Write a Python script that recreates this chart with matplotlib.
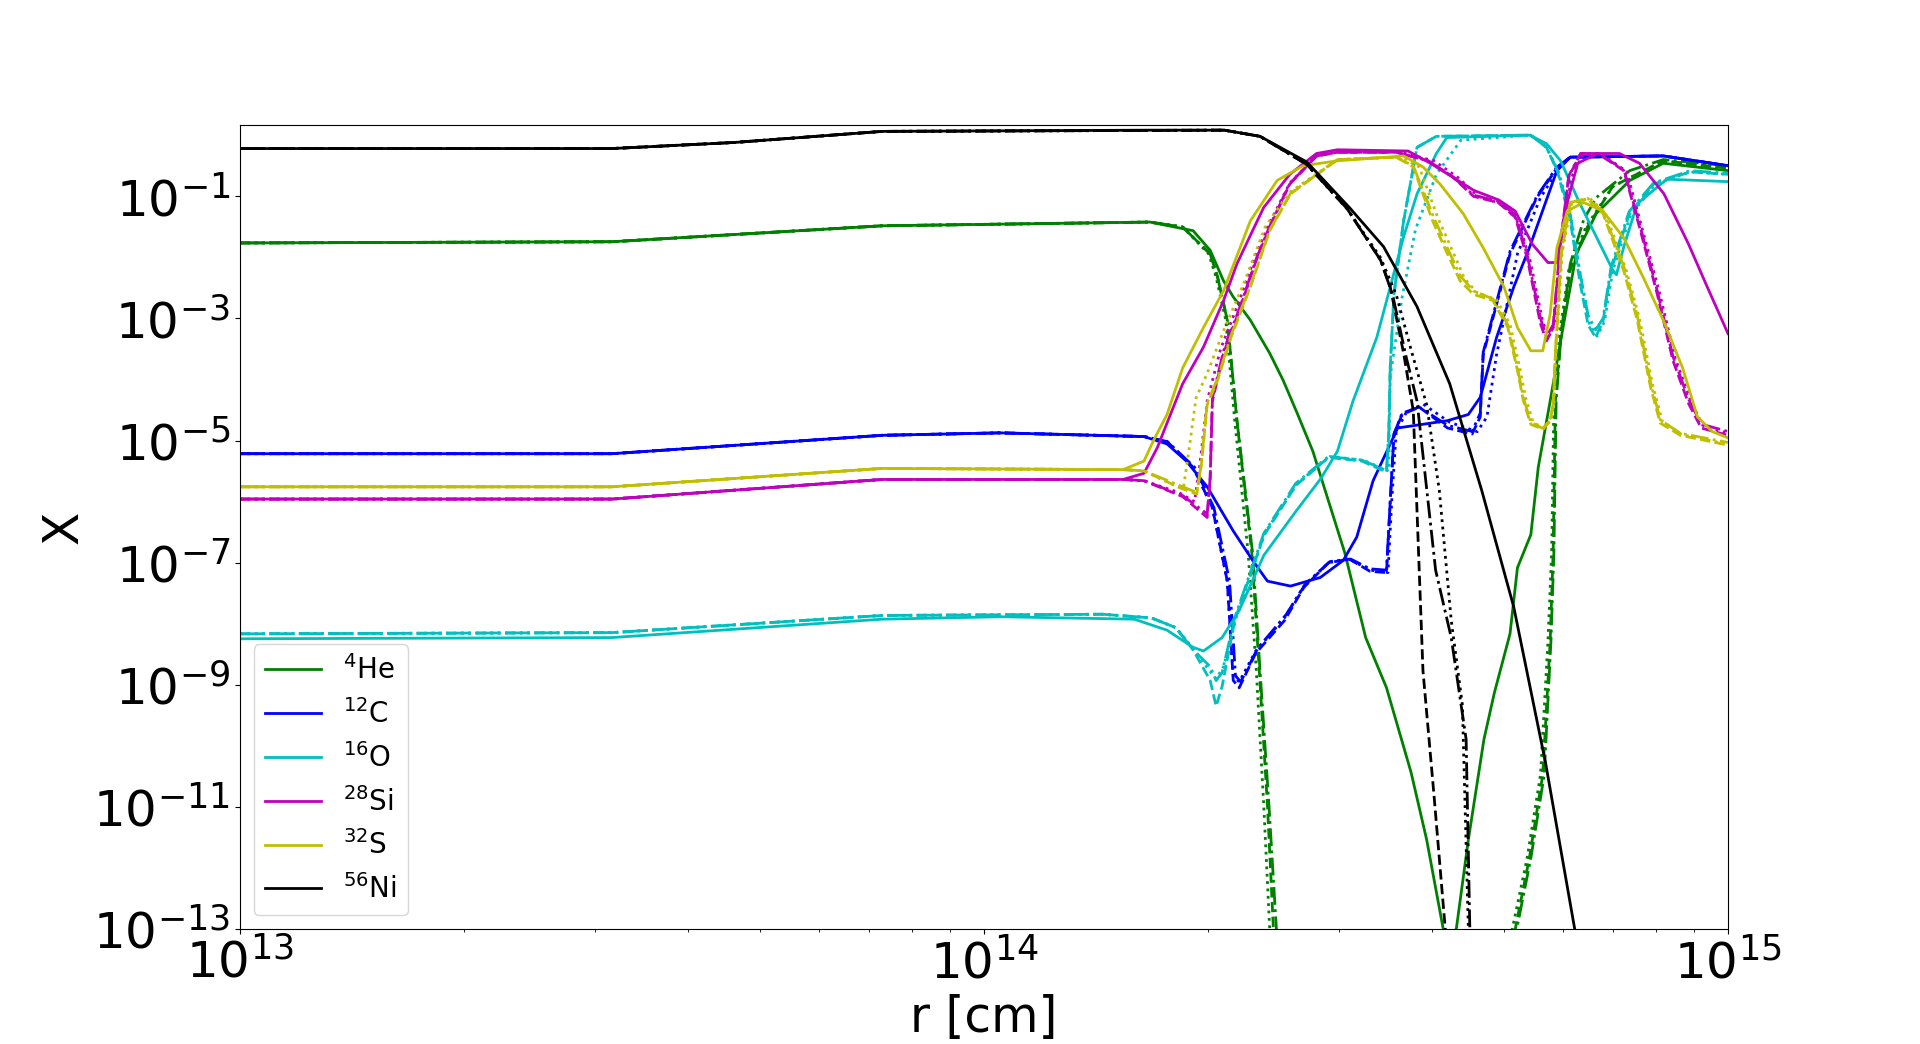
import matplotlib
matplotlib.use("Agg")
import matplotlib.pyplot as plt
import numpy as np

# values, stored as log10(r [cm]) and log10(X)
# one solid / dashed / dash-dot / dotted curve per species

# 4He
he_solid_r = [13.0, 13.5, 13.863, 14.223, 14.281, 14.304, 14.322, 14.335, 14.358, 14.384, 14.402, 14.421, 14.442, 14.485, 14.513, 14.541, 14.574, 14.595, 14.617, 14.625, 14.635, 14.651, 14.672, 14.686, 14.707, 14.717, 14.735, 14.745, 14.761, 14.780, 14.796, 14.823, 14.868, 14.913, 15.0]
he_solid_x = [-1.763, -1.743, -1.482, -1.421, -1.562, -1.883, -2.385, -2.646, -3.027, -3.569, -4.010, -4.552, -5.174, -6.840, -8.225, -9.047, -10.432, -11.536, -12.981, -13.34, -12.981, -11.536, -9.890, -9.128, -8.164, -7.081, -6.539, -5.435, -4.351, -3.027, -1.943, -1.281, -0.739, -0.458, -0.579]
he_dash_r = [13.0, 13.5, 13.863, 14.223, 14.267, 14.304, 14.314, 14.327, 14.340, 14.360, 14.370, 14.381, 14.389, 14.398, 14.55, 14.705, 14.714, 14.733, 14.751, 14.761, 14.765, 14.768, 14.775, 14.788, 14.811, 14.845, 14.913, 15.0]
he_dash_x = [-1.763, -1.743, -1.482, -1.421, -1.502, -1.943, -2.325, -3.027, -4.673, -6.840, -8.766, -10.974, -13.0, -14.245, -16.0, -14.245, -13.0, -11.837, -10.472, -8.285, -6.820, -4.351, -3.308, -2.204, -1.502, -0.839, -0.418, -0.538]
he_dashdot_r = [13.0, 13.5, 13.863, 14.223, 14.267, 14.304, 14.314, 14.327, 14.340, 14.361, 14.371, 14.383, 14.393, 14.401, 14.55, 14.707, 14.716, 14.735, 14.753, 14.762, 14.766, 14.769, 14.776, 14.788, 14.806, 14.823, 14.868, 14.913, 15.0]
he_dashdot_x = [-1.763, -1.743, -1.482, -1.421, -1.502, -1.943, -2.325, -3.027, -4.673, -6.840, -8.766, -10.974, -13.0, -14.245, -16.0, -14.245, -13.0, -11.837, -10.472, -8.285, -6.820, -4.351, -3.208, -2.104, -1.382, -1.020, -0.578, -0.398, -0.498]
he_dot_r = [13.0, 13.5, 13.863, 14.223, 14.267, 14.302, 14.312, 14.325, 14.337, 14.355, 14.366, 14.376, 14.384, 14.392, 14.55, 14.702, 14.710, 14.730, 14.748, 14.758, 14.763, 14.766, 14.773, 14.786, 14.809, 14.845, 14.913, 15.0]
he_dot_x = he_dash_x

# 12C
c_solid_r = [13.0, 13.5, 13.863, 14.022, 14.215, 14.246, 14.272, 14.300, 14.335, 14.361, 14.381, 14.412, 14.452, 14.483, 14.501, 14.523, 14.556, 14.623, 14.651, 14.667, 14.689, 14.712, 14.733, 14.770, 14.788, 14.913, 15.0]
c_solid_x = [-5.214, -5.214, -4.913, -4.873, -4.933, -5.054, -5.335, -5.756, -6.479, -6.960, -7.301, -7.382, -7.241, -6.960, -6.579, -5.656, -4.793, -4.673, -4.572, -4.291, -3.308, -2.485, -1.843, -0.579, -0.358, -0.338, -0.498]
c_dash_r = [13.0, 13.5, 13.863, 14.022, 14.215, 14.246, 14.281, 14.307, 14.327, 14.335, 14.343, 14.365, 14.404, 14.430, 14.463, 14.491, 14.519, 14.541, 14.546, 14.551, 14.562, 14.585, 14.623, 14.656, 14.667, 14.671, 14.707, 14.743, 14.770, 14.788, 14.913, 15.0]
c_dash_x = [-5.214, -5.214, -4.913, -4.873, -4.933, -5.014, -5.435, -6.097, -7.301, -8.927, -9.047, -8.485, -7.944, -7.402, -7.000, -6.940, -7.141, -7.161, -5.997, -4.893, -4.572, -4.452, -4.793, -4.893, -4.612, -3.589, -1.943, -1.020, -0.538, -0.358, -0.338, -0.498]
c_dashdot_r = [13.0, 13.5, 13.863, 14.022, 14.215, 14.246, 14.283, 14.309, 14.330, 14.338, 14.345, 14.368, 14.406, 14.432, 14.465, 14.493, 14.519, 14.541, 14.546, 14.551, 14.562, 14.585, 14.623, 14.656, 14.667, 14.671, 14.707, 14.743, 14.770, 14.788, 14.913, 15.0]
c_dashdot_x = [-5.214, -5.214, -4.913, -4.873, -4.933, -5.014, -5.435, -6.097, -7.301, -8.85, -8.95, -8.40, -7.85, -7.35, -6.98, -6.94, -7.10, -7.12, -5.997, -4.893, -4.55, -4.45, -4.75, -4.85, -4.55, -3.55, -1.90, -1.00, -0.52, -0.358, -0.338, -0.498]
c_dot_r = [13.0, 13.5, 13.863, 14.022, 14.215, 14.246, 14.281, 14.307, 14.327, 14.335, 14.343, 14.365, 14.404, 14.430, 14.463, 14.491, 14.519, 14.543, 14.548, 14.554, 14.567, 14.590, 14.626, 14.663, 14.676, 14.689, 14.717, 14.748, 14.773, 14.788, 14.913, 15.0]
c_dot_x = [-5.214, -5.214, -4.913, -4.873, -4.933, -5.014, -5.435, -6.097, -7.301, -8.85, -8.95, -8.45, -7.90, -7.38, -7.00, -6.94, -7.12, -7.16, -5.997, -4.853, -4.55, -4.40, -4.70, -4.853, -4.612, -3.589, -1.943, -1.020, -0.538, -0.358, -0.338, -0.498]

# 16O
o_solid_r = [13.0, 13.5, 13.863, 14.022, 14.202, 14.246, 14.281, 14.295, 14.320, 14.343, 14.376, 14.418, 14.453, 14.475, 14.496, 14.528, 14.546, 14.564, 14.582, 14.608, 14.622, 14.733, 14.756, 14.775, 14.801, 14.823, 14.845, 14.850, 14.860, 14.878, 14.918, 15.0]
o_solid_x = [-8.245, -8.225, -7.924, -7.884, -7.924, -8.104, -8.385, -8.445, -8.225, -7.783, -6.880, -6.178, -5.616, -5.174, -4.351, -3.308, -2.485, -1.662, -0.960, -0.298, -0.037, 0.003, -0.137, -0.418, -1.120, -1.662, -2.204, -2.284, -1.823, -1.120, -0.719, -0.759]
o_dash_r = [13.0, 13.5, 13.863, 14.159, 14.225, 14.258, 14.281, 14.304, 14.312, 14.320, 14.337, 14.376, 14.419, 14.463, 14.508, 14.541, 14.544, 14.546, 14.551, 14.564, 14.582, 14.608, 14.735, 14.756, 14.771, 14.788, 14.801, 14.812, 14.822, 14.832, 14.843, 14.867, 14.900, 14.949, 15.0]
o_dash_x = [-8.164, -8.144, -7.863, -7.843, -7.903, -8.064, -8.425, -8.927, -9.348, -9.027, -7.944, -6.559, -5.736, -5.275, -5.335, -5.515, -4.893, -3.810, -2.605, -1.401, -0.197, -0.017, 0.003, -0.197, -0.599, -1.401, -2.405, -3.107, -3.308, -3.047, -2.204, -1.301, -0.799, -0.599, -0.639]
o_dashdot_r = o_dash_r
o_dashdot_x = [-8.164, -8.144, -7.863, -7.843, -7.903, -8.064, -8.425, -8.70, -8.93, -8.80, -7.90, -6.52, -5.70, -5.26, -5.32, -5.49, -4.893, -3.810, -2.605, -1.401, -0.197, -0.017, 0.003, -0.197, -0.58, -1.30, -2.25, -2.95, -3.187, -3.0, -2.15, -1.25, -0.78, -0.58, -0.62]
o_dot_r = [13.0, 13.5, 13.863, 14.159, 14.225, 14.258, 14.281, 14.302, 14.312, 14.322, 14.340, 14.378, 14.421, 14.465, 14.510, 14.544, 14.546, 14.562, 14.580, 14.608, 14.641, 14.735, 14.756, 14.773, 14.790, 14.803, 14.814, 14.824, 14.834, 14.845, 14.869, 14.902, 14.949, 15.0]
o_dot_x = [-8.164, -8.144, -7.863, -7.843, -7.903, -8.064, -8.40, -8.75, -8.90, -8.70, -7.85, -6.50, -5.70, -5.26, -5.32, -5.50, -3.95, -2.65, -1.54, -0.64, -0.08, 0.003, -0.197, -0.62, -1.42, -2.40, -3.10, -3.29, -3.05, -2.22, -1.31, -0.80, -0.60, -0.64]

# 28Si
si_solid_r = [13.0, 13.5, 13.863, 14.187, 14.215, 14.233, 14.246, 14.267, 14.295, 14.322, 14.340, 14.361, 14.376, 14.411, 14.447, 14.475, 14.570, 14.600, 14.658, 14.692, 14.714, 14.737, 14.758, 14.770, 14.781, 14.798, 14.825, 14.854, 14.881, 14.914, 14.947, 14.970, 15.0]
si_solid_x = [-5.957, -5.957, -5.636, -5.636, -5.535, -5.114, -4.713, -4.070, -3.468, -2.706, -2.104, -1.562, -1.181, -0.639, -0.298, -0.237, -0.257, -0.458, -0.900, -1.060, -1.241, -1.783, -2.084, -2.084, -1.241, -0.458, -0.298, -0.298, -0.458, -0.960, -1.783, -2.425, -3.248]
si_dash_r = [13.0, 13.5, 13.863, 14.187, 14.215, 14.267, 14.300, 14.304, 14.307, 14.322, 14.345, 14.366, 14.384, 14.411, 14.447, 14.475, 14.554, 14.597, 14.630, 14.658, 14.691, 14.714, 14.730, 14.748, 14.756, 14.765, 14.775, 14.786, 14.802, 14.825, 14.860, 14.881, 14.905, 14.926, 14.947, 14.964, 15.0]
si_dash_x = [-5.957, -5.957, -5.636, -5.636, -5.656, -5.917, -6.258, -5.616, -4.351, -3.569, -2.806, -2.044, -1.502, -0.799, -0.338, -0.278, -0.278, -0.418, -0.679, -1.0, -1.100, -1.341, -2.004, -3.087, -3.368, -3.147, -1.783, -0.679, -0.298, -0.298, -0.579, -1.502, -2.605, -3.689, -4.392, -4.793, -4.913]
si_dashdot_r = si_dash_r
si_dashdot_x = [-5.957, -5.957, -5.636, -5.636, -5.656, -5.90, -6.20, -5.60, -4.30, -3.53, -2.78, -2.02, -1.49, -0.79, -0.338, -0.278, -0.278, -0.418, -0.68, -0.98, -1.08, -1.30, -1.95, -3.00, -3.30, -3.10, -1.75, -0.66, -0.298, -0.298, -0.56, -1.45, -2.55, -3.62, -4.32, -4.73, -4.85]
si_dot_r = [13.0, 13.5, 13.863, 14.187, 14.215, 14.262, 14.283, 14.290, 14.300, 14.318, 14.342, 14.364, 14.382, 14.411, 14.447, 14.475, 14.560, 14.605, 14.638, 14.664, 14.695, 14.718, 14.734, 14.751, 14.759, 14.767, 14.777, 14.789, 14.806, 14.830, 14.864, 14.884, 14.908, 14.929, 14.950, 14.966, 15.0]
si_dot_x = [-5.957, -5.957, -5.636, -5.636, -5.656, -5.85, -6.00, -5.40, -4.35, -3.50, -2.75, -2.00, -1.48, -0.78, -0.338, -0.278, -0.278, -0.418, -0.70, -1.0, -1.12, -1.40, -2.05, -3.05, -3.30, -3.10, -1.80, -0.70, -0.30, -0.30, -0.60, -1.50, -2.58, -3.65, -4.35, -4.75, -4.88]

# 32S
s_solid_r = [13.0, 13.5, 13.863, 14.187, 14.215, 14.228, 14.246, 14.267, 14.295, 14.322, 14.358, 14.394, 14.429, 14.475, 14.564, 14.590, 14.613, 14.644, 14.671, 14.699, 14.717, 14.735, 14.751, 14.761, 14.770, 14.784, 14.806, 14.832, 14.860, 14.886, 14.913, 14.939, 14.959, 14.979, 15.0]
s_solid_x = [-5.756, -5.756, -5.455, -5.475, -5.335, -4.994, -4.572, -3.810, -3.147, -2.545, -1.401, -0.739, -0.498, -0.418, -0.338, -0.518, -0.799, -1.281, -1.843, -2.485, -3.147, -3.529, -3.529, -2.927, -1.843, -1.241, -1.100, -1.241, -1.682, -2.325, -3.027, -3.810, -4.612, -4.853, -4.953]
s_dash_r = [13.0, 13.5, 13.863, 14.187, 14.215, 14.264, 14.286, 14.292, 14.300, 14.314, 14.332, 14.358, 14.384, 14.412, 14.475, 14.554, 14.577, 14.603, 14.623, 14.640, 14.658, 14.684, 14.704, 14.717, 14.725, 14.735, 14.751, 14.761, 14.765, 14.768, 14.776, 14.788, 14.811, 14.832, 14.860, 14.878, 14.896, 14.909, 14.936, 15.0]
s_dash_x = [-5.756, -5.756, -5.455, -5.475, -5.495, -5.776, -5.877, -5.415, -4.412, -4.010, -3.308, -2.485, -1.562, -0.960, -0.398, -0.358, -0.518, -1.401, -1.943, -2.385, -2.605, -2.706, -3.147, -3.850, -4.351, -4.733, -4.813, -4.673, -4.412, -3.589, -1.943, -1.120, -1.040, -1.281, -2.224, -3.027, -4.131, -4.713, -4.913, -5.074]
s_dashdot_r = s_dash_r
s_dashdot_x = [-5.756, -5.756, -5.455, -5.475, -5.495, -5.74, -5.85, -5.38, -4.38, -3.98, -3.28, -2.46, -1.55, -0.95, -0.398, -0.358, -0.50, -1.30, -1.85, -2.30, -2.55, -2.68, -3.10, -3.80, -4.30, -4.70, -4.80, -4.66, -4.40, -3.55, -1.90, -1.10, -1.03, -1.25, -2.15, -2.95, -4.05, -4.66, -4.88, -5.03]
s_dot_r = [13.0, 13.5, 13.863, 14.187, 14.215, 14.250, 14.268, 14.275, 14.285, 14.300, 14.322, 14.350, 14.378, 14.410, 14.475, 14.560, 14.585, 14.610, 14.630, 14.646, 14.663, 14.689, 14.707, 14.720, 14.728, 14.738, 14.753, 14.762, 14.766, 14.769, 14.777, 14.790, 14.814, 14.835, 14.863, 14.881, 14.899, 14.912, 14.938, 15.0]
s_dot_x = [-5.756, -5.756, -5.455, -5.475, -5.495, -5.70, -5.78, -5.20, -4.30, -3.90, -3.20, -2.40, -1.50, -0.94, -0.398, -0.358, -0.518, -1.350, -1.900, -2.350, -2.580, -2.690, -3.100, -3.800, -4.300, -4.700, -4.800, -4.650, -4.400, -3.560, -1.920, -1.110, -1.030, -1.270, -2.200, -3.000, -4.100, -4.690, -4.900, -5.060]

# 56Ni
ni_solid_r = [13.0, 13.5, 13.665, 13.863, 14.223, 14.323, 14.371, 14.434, 14.491, 14.537, 14.582, 14.626, 14.669, 14.712, 14.755, 14.794, 14.817]
ni_solid_x = [-0.217, -0.217, -0.117, 0.064, 0.084, 0.084, -0.017, -0.438, -1.181, -1.823, -2.806, -4.070, -5.816, -7.723, -10.291, -13.0, -14.5]
ni_dash_r = [13.0, 13.5, 13.665, 13.863, 14.323, 14.371, 14.434, 14.488, 14.533, 14.546, 14.564, 14.577, 14.590, 14.605, 14.620, 14.630]
ni_dash_x = [-0.217, -0.217, -0.117, 0.064, 0.084, -0.017, -0.478, -1.201, -2.044, -2.485, -3.569, -4.512, -8.766, -10.83, -13.0, -14.5]
ni_dashdot_r = [13.0, 13.5, 13.665, 13.863, 14.323, 14.371, 14.434, 14.488, 14.533, 14.549, 14.567, 14.582, 14.607, 14.628, 14.648, 14.653, 14.658]
ni_dashdot_x = [-0.217, -0.217, -0.117, 0.064, 0.084, -0.017, -0.478, -1.201, -2.044, -2.605, -3.609, -4.351, -7.121, -8.225, -9.890, -13.0, -14.5]
ni_dot_r = [13.0, 13.5, 13.665, 13.863, 14.323, 14.371, 14.434, 14.488, 14.533, 14.554, 14.574, 14.595, 14.612, 14.628, 14.643, 14.651, 14.656]
ni_dot_x = [-0.217, -0.217, -0.117, 0.064, 0.084, -0.017, -0.478, -1.201, -2.004, -2.605, -3.509, -4.412, -5.816, -7.944, -9.328, -13.0, -14.5]

labels = ["$^{4}$He", "$^{12}$C", "$^{16}$O", "$^{28}$Si", "$^{32}$S", "$^{56}$Ni"]
colors = ["g", "b", "c", "m", "y", "k"]
y_tick_exps = [-13, -11, -9, -7, -5, -3, -1]

species = [
    [(he_solid_r, he_solid_x), (he_dash_r, he_dash_x), (he_dashdot_r, he_dashdot_x), (he_dot_r, he_dot_x)],
    [(c_solid_r, c_solid_x), (c_dash_r, c_dash_x), (c_dashdot_r, c_dashdot_x), (c_dot_r, c_dot_x)],
    [(o_solid_r, o_solid_x), (o_dash_r, o_dash_x), (o_dashdot_r, o_dashdot_x), (o_dot_r, o_dot_x)],
    [(si_solid_r, si_solid_x), (si_dash_r, si_dash_x), (si_dashdot_r, si_dashdot_x), (si_dot_r, si_dot_x)],
    [(s_solid_r, s_solid_x), (s_dash_r, s_dash_x), (s_dashdot_r, s_dashdot_x), (s_dot_r, s_dot_x)],
    [(ni_solid_r, ni_solid_x), (ni_dash_r, ni_dash_x), (ni_dashdot_r, ni_dashdot_x), (ni_dot_r, ni_dot_x)],
]
styles = ["-", "--", "-.", ":"]

fig, ax = plt.subplots(figsize=(19.2, 10.44), dpi=100)

for i in range(len(species)):
    for j in range(4):
        lr, lx = species[i][j]
        ax.plot(10**np.array(lr), 10**np.array(lx), color=colors[i], ls=styles[j], lw=2,
                label=labels[i] if j == 0 else None)

ax.set_xscale("log")
ax.set_yscale("log")
ax.set_xlim(1e13, 1e15)
ax.set_ylim(1e-13, 10**0.164)
ax.set_yticks([10.0**e for e in y_tick_exps])
ax.yaxis.set_minor_locator(matplotlib.ticker.NullLocator())
ax.tick_params(labelsize=36)
ax.set_xlabel("r [cm]", fontsize=35)
ax.set_ylabel("X", fontsize=35)
ax.legend(loc="lower left", fontsize=20)

fig.savefig("out.png", dpi=100)
